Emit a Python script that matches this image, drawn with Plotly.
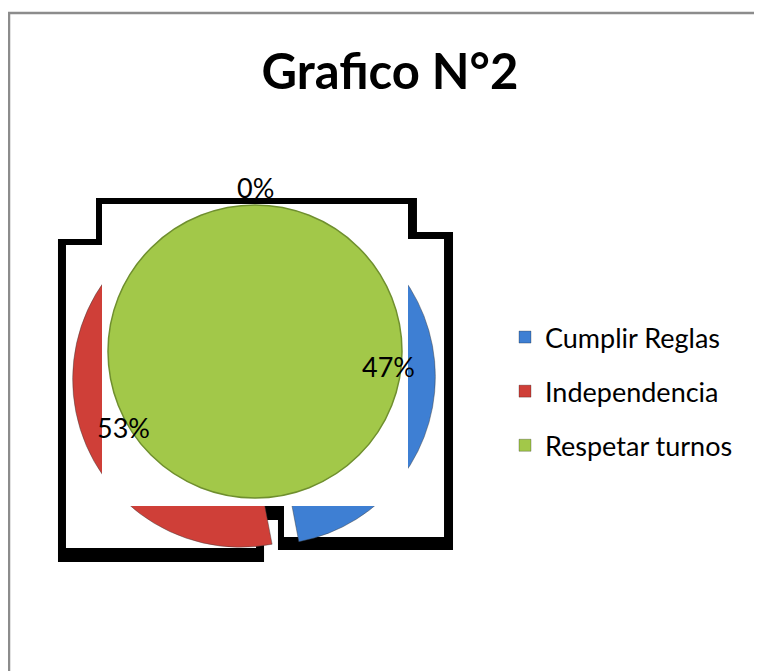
"""Grafico N°2 - pie of classroom skills (Excel-style 3D pie look)."""

import plotly.graph_objects as go

W, H = 762, 671
OFF = 8  # page body margin in the browser

categories = ["Cumplir Reglas", "Independencia", "Respetar turnos"]
values = [47, 53, 0]
colors = ["#3e7fd3", "#cf3f38", "#a2c849"]
title_text = "Grafico N°2"


def px_x(x):
    return (x - OFF) / W


def px_y(y):
    return 1 - (y - OFF) / H


def path(points):
    pts = [f"{px_x(x):.4f},{px_y(y):.4f}" for x, y in points]
    return "M " + " L ".join(pts) + " Z"


fig = go.Figure()

# the pie itself, drawn from the data
fig.add_trace(
    go.Pie(
        labels=categories,
        values=values,
        sort=False,
        direction="clockwise",
        rotation=0,
        marker=dict(colors=colors, line=dict(color="rgba(60,60,60,0.45)", width=1)),
        pull=[0.08, 0.08, 0],
        textinfo="none",
        hoverinfo="label+percent",
        showlegend=False,
        domain=dict(x=[px_x(72.6), px_x(435.4)], y=[px_y(559.4), px_y(196.6)]),
    )
)

# legend entries
for name, col in zip(categories, colors):
    fig.add_trace(
        go.Scatter(
            x=[None], y=[None], mode="markers", name=name, legendgroup=name,
            marker=dict(symbol="square", size=12, color=col,
                        line=dict(color="rgba(0,0,0,0.25)", width=1)),
        )
    )

# frame left behind by the original rendering
outer = [(96, 198), (417, 198), (417, 232), (453, 232), (453, 550), (278, 550),
         (278, 520), (264, 520), (264, 562), (58, 562), (58, 239), (96, 239)]
inner = [(102, 204), (408, 204), (408, 239), (444, 239), (444, 537), (284, 537),
         (284, 506), (256, 506), (256, 548), (66, 548), (66, 245), (102, 245)]

shapes = [
    dict(type="rect", xref="paper", yref="paper", x0=px_x(9), x1=1.05,
         y0=-0.05, y1=px_y(13), line=dict(color="#8c8c8c", width=2.5), layer="below"),
    dict(type="path", xref="paper", yref="paper", path=path(outer),
         fillcolor="black", line=dict(width=0), layer="below"),
    dict(type="path", xref="paper", yref="paper", path=path(inner),
         fillcolor="white", line=dict(width=0), layer="below"),
    dict(type="rect", xref="paper", yref="paper", x0=px_x(102), x1=px_x(408),
         y0=px_y(506), y1=px_y(204), fillcolor="white", line=dict(width=0), layer="above"),
    dict(type="circle", xref="paper", yref="paper", x0=px_x(108), x1=px_x(402),
         y0=px_y(498), y1=px_y(205), fillcolor=colors[2],
         line=dict(color="#6f8f2e", width=1.5), layer="above"),
]

# percentage labels
label_pos = {"Cumplir Reglas": (388, 366), "Independencia": (123, 427), "Respetar turnos": (255, 187)}
annotations = []
for name, v in zip(categories, values):
    x, y = label_pos[name]
    annotations.append(
        dict(x=px_x(x), y=px_y(y), xref="paper", yref="paper", text=f"{v}%",
             xanchor="center", yanchor="middle", showarrow=False,
             font=dict(size=27, color="black"))
    )

fig.update_layout(
    width=W,
    height=H,
    margin=dict(l=0, r=0, t=0, b=0),
    paper_bgcolor="white",
    plot_bgcolor="rgba(0,0,0,0)",
    font=dict(family="Lato, Noto Sans, sans-serif", color="black"),
    title=dict(text=f"<b>{title_text}</b>", x=px_x(390), y=px_y(72),
               xanchor="center", yanchor="middle", font=dict(size=49, color="black")),
    xaxis=dict(visible=False),
    yaxis=dict(visible=False),
    legend=dict(x=px_x(505), y=px_y(313), xanchor="left", yanchor="top",
                font=dict(size=27), tracegroupgap=16, bgcolor="rgba(0,0,0,0)"),
    shapes=shapes,
    annotations=annotations,
)

fig.write_html("out.html")
